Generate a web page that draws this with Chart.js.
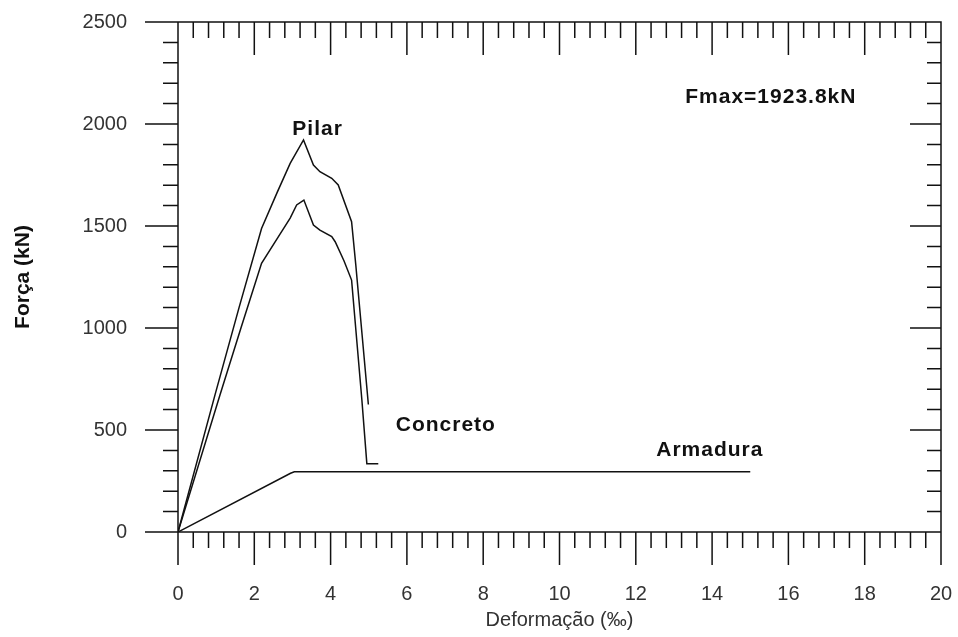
<!DOCTYPE html>
<html>
<head>
<meta charset="utf-8">
<script src="https://cdn.jsdelivr.net/npm/chart.js@4.4.0/dist/chart.umd.min.js"></script>
<style>
    html, body { margin: 0; padding: 0; background: #fff; }
    #wrap { width: 958px; height: 637px; }
</style>
</head>
<body>
<div id="wrap"><canvas id="forceChart" width="958" height="637"></canvas></div>
<script>
// Pilar (upper curve)
const pilarStrain = [0, 0.97, 1.6, 2.19, 2.6, 2.94, 3.29, 3.55, 3.72, 4.03, 4.20, 4.55, 4.66, 4.99];
const pilarForce  = [0, 672, 1100, 1488, 1665, 1807, 1922, 1799, 1766, 1734, 1701, 1521, 1310, 625];

// Concreto (lower curve)
const concretoStrain = [0, 1.1, 1.65, 2.19, 2.67, 2.94, 3.11, 3.30, 3.55, 3.72, 4.03, 4.12, 4.35, 4.55, 4.82, 4.95, 5.25];
const concretoForce  = [0, 672, 1000, 1317, 1459, 1539, 1603, 1627, 1505, 1480, 1448, 1423, 1330, 1235, 647, 335, 335];

// Armadura (steel)
const armaduraStrain = [0, 2.95, 3.05, 15];
const armaduraForce  = [0, 288, 295, 295];

// text labels inside the plot, anchored in data units
const labelTexts = ['Pilar', 'Concreto', 'Armadura', 'Fmax=1923.8kN'];
const labelX = [3.66, 7.02, 13.94, 15.54];
const labelY = [1944, 493, 375, 2101];

const xTitle = 'Deformação (‰)';
const yTitle = 'Força (kN)';

function toPoints(xs, ys) {
    return xs.map((v, i) => ({ x: v, y: ys[i] }));
}

// the big tick padding would otherwise eat into the chart area
function fixBox(s, w, h) {
    if (w) s.width = w;
    if (h) s.height = h;
    s.paddingLeft = 0; s.paddingRight = 0;
    s.paddingTop = 0; s.paddingBottom = 0;
}

// Grapher-like frame: ticks on all four sides, minor + major
const frameTicks = {
    id: 'frameTicks',
    afterDraw(chart) {
        const { ctx, chartArea: a, scales: { x, y } } = chart;
        ctx.save();
        ctx.strokeStyle = '#111';
        ctx.lineWidth = 1.5;
        ctx.beginPath();
        ctx.rect(a.left, a.top, a.right - a.left, a.bottom - a.top);

        for (let i = 0; i <= 50; i++) {
            const px = x.getPixelForValue(i * 0.4);
            const len = (i % 5 === 0) ? 33 : 16;
            ctx.moveTo(px, a.bottom); ctx.lineTo(px, a.bottom + len);
            ctx.moveTo(px, a.top); ctx.lineTo(px, a.top + len);
        }
        for (let i = 0; i <= 25; i++) {
            const py = y.getPixelForValue(i * 100);
            const major = i % 5 === 0;
            ctx.moveTo(a.left, py); ctx.lineTo(a.left - (major ? 33 : 15), py);
            ctx.moveTo(a.right, py); ctx.lineTo(a.right - (major ? 31 : 14), py);
        }
        ctx.stroke();

        // labels
        ctx.fillStyle = '#111';
        ctx.font = 'bold 21px "Liberation Sans", Arial, sans-serif';
        ctx.letterSpacing = '1px';
        ctx.textAlign = 'center';
        ctx.textBaseline = 'alphabetic';
        labelTexts.forEach((t, i) => {
            ctx.fillText(t, x.getPixelForValue(labelX[i]), y.getPixelForValue(labelY[i]));
        });
        ctx.restore();
    }
};

const lineStyle = {
    borderColor: '#111',
    borderWidth: 1.5,
    pointRadius: 0,
    tension: 0,
    showLine: true,
    fill: false
};

new Chart(document.getElementById('forceChart').getContext('2d'), {
    type: 'scatter',
    data: {
        datasets: [
            { label: 'Pilar', data: toPoints(pilarStrain, pilarForce), ...lineStyle },
            { label: 'Concreto', data: toPoints(concretoStrain, concretoForce), ...lineStyle },
            { label: 'Armadura', data: toPoints(armaduraStrain, armaduraForce), ...lineStyle }
        ]
    },
    options: {
        responsive: false,
        animation: false,
        devicePixelRatio: 1,
        layout: { padding: { left: 0, right: 17, top: 22, bottom: 0 } },
        plugins: {
            legend: { display: false },
            tooltip: { enabled: false }
        },
        scales: {
            x: {
                type: 'linear',
                min: 0,
                max: 20,
                afterFit: s => fixBox(s, 0, 105),
                grid: { display: false, drawTicks: false },
                border: { display: false },
                ticks: {
                    stepSize: 2,
                    padding: 50,
                    color: '#333',
                    callback: v => String(v),
                    font: { family: '"Liberation Sans", Arial, sans-serif', size: 20 }
                },
                title: {
                    display: true,
                    text: xTitle,
                    color: '#333',
                    font: { family: '"Liberation Sans", Arial, sans-serif', size: 20 },
                    padding: { top: 0, bottom: 5 }
                }
            },
            y: {
                type: 'linear',
                min: 0,
                max: 2500,
                afterFit: s => fixBox(s, 178, 0),
                grid: { display: false, drawTicks: false },
                border: { display: false },
                ticks: {
                    stepSize: 500,
                    padding: 51,
                    color: '#333',
                    callback: v => String(v),
                    font: { family: '"Liberation Sans", Arial, sans-serif', size: 20 }
                },
                title: {
                    display: true,
                    text: yTitle,
                    color: '#111',
                    font: { family: '"Liberation Sans", Arial, sans-serif', size: 21, weight: 'bold' },
                    padding: { top: 11, bottom: 0 }
                }
            }
        }
    },
    plugins: [frameTicks]
});
</script>
</body>
</html>
